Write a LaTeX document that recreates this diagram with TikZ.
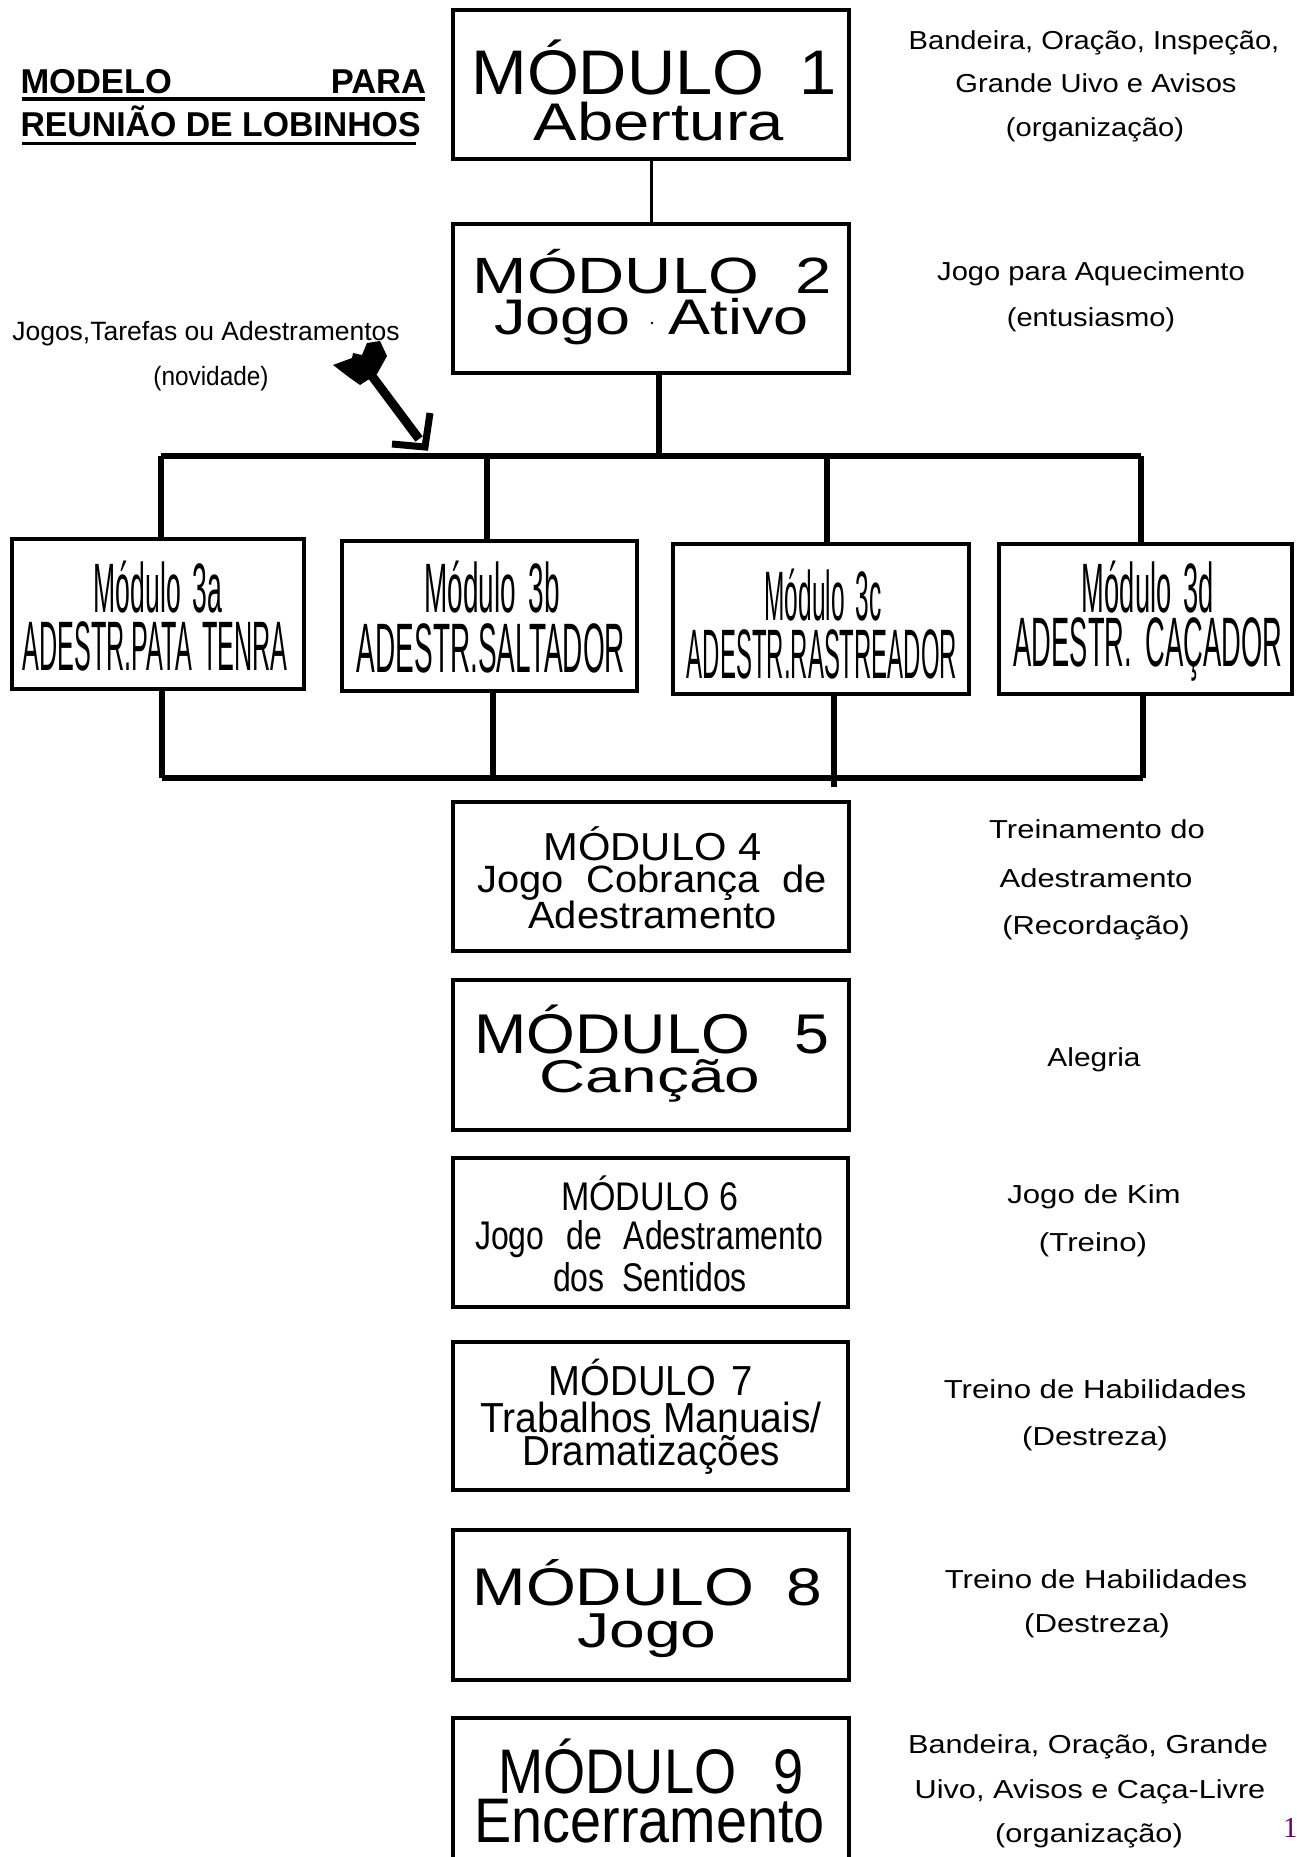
\documentclass[tikz,border=0pt]{standalone}
\usepackage{fontspec}
\setmainfont{Liberation Sans}
\newfontfamily\pgserif{Liberation Serif}
\usepackage{graphicx}
\definecolor{pgpurple}{RGB}{102,0,102}
\newcommand\tx[3]{\scalebox{#2}[1]{\fontsize{#1}{#1}\selectfont #3}}
\begin{document}
\begin{tikzpicture}[x=1pt,y=-1pt,
  box/.style={draw, line width=4pt, inner sep=0pt, outer sep=0pt},
  conn/.style={line width=3pt},
  bus/.style={line width=5.5pt},
  lbl/.style={anchor=base, inner sep=0pt, outer sep=0pt},
  uline/.style={line width=3.5pt},
]
\useasboundingbox (0,0) rectangle (1296,1857);
\fill[white] (0,0) rectangle (1296,1857);

% ---------- title ----------
\node[lbl, anchor=base west] (tA) at (20.5,94) {\tx{34.5}{1}{\bfseries MODELO}};
\node[lbl, anchor=base east] (tB) at (426,94) {\tx{34.5}{1}{\bfseries PARA}};
\node[lbl, anchor=base west] (tC) at (20.5,137) {\tx{34.5}{0.98}{\bfseries REUNIÃO DE LOBINHOS}};
\draw[uline] (22,99) -- (425,99);
\draw[uline] (22,143.5) -- (416,143.5);

% ---------- boxes ----------
\node[box, minimum width=396pt, minimum height=149pt] (m1) at (651,84.5) {};
\node[box, minimum width=396pt, minimum height=149pt] (m2) at (651,298.5) {};
\node[box, minimum width=292pt, minimum height=150pt] (m3a) at (158,614) {};
\node[box, minimum width=295pt, minimum height=150pt] (m3b) at (489.5,616) {};
\node[box, minimum width=296pt, minimum height=150pt] (m3c) at (821,619) {};
\node[box, minimum width=293pt, minimum height=150pt] (m3d) at (1145.5,619) {};
\node[box, minimum width=396pt, minimum height=149pt] (m4) at (651,876.5) {};
\node[box, minimum width=396pt, minimum height=150pt] (m5) at (651,1055) {};
\node[box, minimum width=395pt, minimum height=149pt] (m6) at (650.5,1232.5) {};
\node[box, minimum width=395pt, minimum height=148pt] (m7) at (650.5,1416) {};
\node[box, minimum width=396pt, minimum height=150pt] (m8) at (651,1605) {};
\node[box, minimum width=396pt, minimum height=160pt] (m9) at (651,1798) {};

% ---------- box texts ----------
\node[lbl] (m1a) at (654,95) {\tx{63}{1.06}{MÓDULO\hspace{33pt}1}};
\node[lbl] (m1b) at (659,140) {\tx{53}{1.23}{Abertura}};

\node[lbl] (m2a) at (652,293) {\tx{51}{1.28}{MÓDULO\hspace{28pt}2}};
\node[lbl] (m2b) at (651.5,334) {\tx{50}{1.26}{Jogo\hspace{30pt}Ativo}};
\fill (652,323) circle (1.4pt);

\node[lbl] (m3a1) at (158,612) {\tx{70}{0.38}{Módulo\hspace{0.45em}3a}};
\node[lbl] (m3a2) at (155,670) {\tx{70}{0.36}{ADESTR.PATA\hspace{0.4em}TENRA}};
\node[lbl] (m3b1) at (492,612) {\tx{70}{0.40}{Módulo\hspace{0.45em}3b}};
\node[lbl] (m3b2) at (491,672) {\tx{70}{0.40}{ADESTR.SALTADOR}};
\node[lbl] (m3c1) at (823,620) {\tx{70}{0.35}{Módulo\hspace{0.45em}3c}};
\node[lbl] (m3c2) at (822,678) {\tx{70}{0.342}{ADESTR.RASTREADOR}};
\node[lbl] (m3d1) at (1148,612) {\tx{70}{0.39}{Módulo\hspace{0.45em}3d}};
\node[lbl] (m3d2) at (1148,666) {\tx{70}{0.39}{ADESTR.\hspace{0.5em}CAÇADOR}};

\node[lbl] (m4a) at (652.5,860) {\tx{39}{1.07}{MÓDULO 4}};
\node[lbl] (m4b) at (652,892) {\tx{38}{1.05}{\makebox[333pt][s]{Jogo Cobrança de}}};
\node[lbl] (m4c) at (652.5,928) {\tx{38}{1.05}{Adestramento}};

\node[lbl] (m5a) at (652,1053) {\tx{56}{1.12}{MÓDULO\hspace{40pt}5}};
\node[lbl] (m5b) at (650,1092) {\tx{46}{1.39}{Canção}};

\node[lbl] (m6a) at (650,1210) {\tx{40}{0.85}{MÓDULO 6}};
\node[lbl] (m6b) at (649,1249) {\tx{40}{0.8}{\makebox[435pt][s]{Jogo de Adestramento}}};
\node[lbl] (m6c) at (650,1291) {\tx{40}{0.8}{dos\hspace{0.55em}Sentidos}};

\node[lbl] (m7a) at (651,1395) {\tx{42}{0.91}{MÓDULO\hspace{0.4em}7}};
\node[lbl] (m7b) at (651,1432) {\tx{42}{0.93}{Trabalhos Manuais/}};
\node[lbl] (m7c) at (651,1465) {\tx{42}{0.92}{Dramatizações}};

\node[lbl] (m8a) at (647.5,1605) {\tx{53}{1.21}{MÓDULO\hspace{27pt}8}};
\node[lbl] (m8b) at (647,1647) {\tx{49}{1.31}{Jogo}};

\node[lbl] (m9a) at (651,1793) {\tx{63}{0.86}{MÓDULO\hspace{43pt}9}};
\node[lbl] (m9b) at (649.5,1842) {\tx{63}{0.885}{Encerramento}};

% ---------- right-hand notes ----------
\node[lbl] (r1a) at (1094,50) {\tx{26}{1.12}{Bandeira, Oração, Inspeção,}};
\node[lbl] (r1b) at (1096,93) {\tx{26}{1.12}{Grande Uivo e Avisos}};
\node[lbl] (r1c) at (1095,136) {\tx{26}{1.12}{(organização)}};

\node[lbl] (r2a) at (1091,280) {\tx{26}{1.12}{Jogo para Aquecimento}};
\node[lbl] (r2b) at (1091,326) {\tx{26}{1.12}{(entusiasmo)}};

\node[lbl] (r4a) at (1097,838) {\tx{26}{1.19}{Treinamento do}};
\node[lbl] (r4b) at (1096,887) {\tx{26}{1.19}{Adestramento}};
\node[lbl] (r4c) at (1096,934) {\tx{26}{1.19}{(Recordação)}};

\node[lbl] (r5a) at (1094,1066) {\tx{26}{1.15}{Alegria}};

\node[lbl] (r6a) at (1094,1203) {\tx{26}{1.2}{Jogo de Kim}};
\node[lbl] (r6b) at (1093,1251) {\tx{26}{1.2}{(Treino)}};

\node[lbl] (r7a) at (1095,1398) {\tx{26}{1.2}{Treino de Habilidades}};
\node[lbl] (r7b) at (1095,1445) {\tx{26}{1.2}{(Destreza)}};

\node[lbl] (r8a) at (1096,1588) {\tx{26}{1.2}{Treino de Habilidades}};
\node[lbl] (r8b) at (1097,1632) {\tx{26}{1.2}{(Destreza)}};

\node[lbl] (r9a) at (1088,1753) {\tx{26}{1.18}{Bandeira, Oração, Grande}};
\node[lbl] (r9b) at (1090,1798) {\tx{26}{1.18}{Uivo, Avisos e Caça-Livre}};
\node[lbl] (r9c) at (1089,1842) {\tx{26}{1.18}{(organização)}};

% ---------- left annotation ----------
\node[lbl] (nA) at (206,340) {\tx{26.5}{1}{Jogos,Tarefas ou Adestramentos}};
\node[lbl] (nB) at (211,385) {\tx{26.5}{0.92}{(novidade)}};

% ---------- connectors ----------
\coordinate (bus2) at (659,456);
\coordinate (busL) at (161,456);
\coordinate (busR) at (1141,456);
\coordinate (bbL) at (162,778);
\coordinate (bbR) at (1143,778);

\draw[conn] (m1.south) -- (m2.north);
\draw[bus] (m2.south -| bus2) -- (bus2);
\draw[bus] (busL) -- (busR);
\draw[bus] (busL) -- (busL |- m3a.north);
\draw[bus] (487,456) -- (487,541);
\draw[bus] (827,456) -- (827,544);
\draw[bus] (busR) -- (busR |- m3d.north);

\draw[bus] (bbL |- m3a.south) -- (bbL);
\draw[bus] (493,691) -- (493,780);
\draw[bus] (834,694) -- (834,787);
\draw[bus] (bbR |- m3d.south) -- (bbR);
\draw[bus] (bbL) -- (bbR);

% ---------- arrow ----------
\coordinate (arS) at (372,376);
\coordinate (arE) at (419,439);
\coordinate (arT) at (425,447);
\draw[line width=9pt] (arS) -- (arE);
\draw[line width=7pt, line join=miter] (392,444) -- (arT) -- (430,413);
\fill (333,365) -- (352,358) -- (353,353) -- (362,355) -- (367,343) -- (380,341)
  -- (387,356) -- (377,374) -- (360,385) -- (350,378) -- cycle;

% ---------- page number ----------
\node[anchor=base west, inner sep=0pt] (pg) at (1283,1837)
  {\pgserif\fontsize{29}{29}\selectfont\color{pgpurple}11};
\end{tikzpicture}
\end{document}
